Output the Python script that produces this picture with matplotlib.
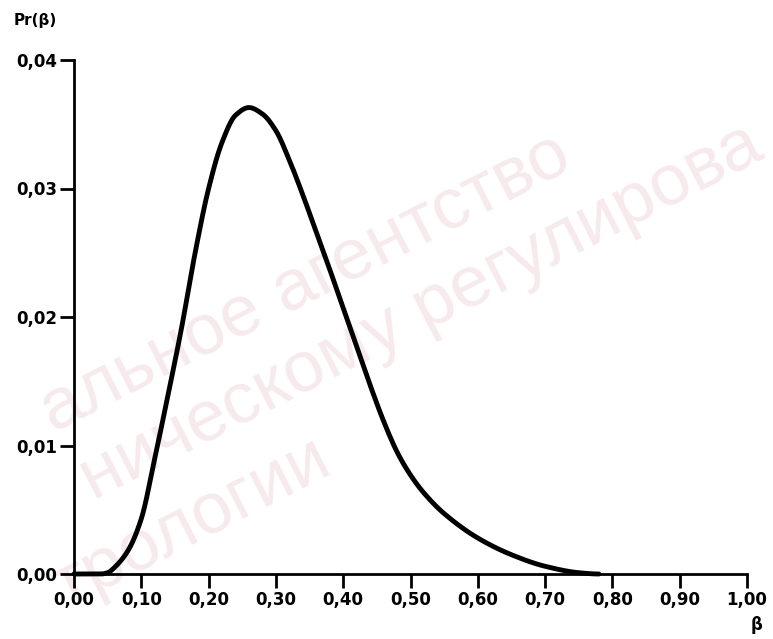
import numpy as np
import matplotlib
matplotlib.use('Agg')
import matplotlib.pyplot as plt

# values
beta = [0.00, 0.04, 0.05, 0.06, 0.08, 0.10, 0.12, 0.14, 0.16, 0.18, 0.20,
        0.22, 0.24, 0.26, 0.28, 0.30, 0.32, 0.34, 0.36, 0.38, 0.40, 0.42,
        0.44, 0.46, 0.48, 0.50, 0.52, 0.55, 0.60, 0.65, 0.70, 0.75, 0.78]
pr = [0.0, 0.0, 0.0001, 0.0005, 0.0018, 0.0043, 0.0090, 0.0140, 0.0192,
      0.0250, 0.0300, 0.0336, 0.0357, 0.0363, 0.0358, 0.0345, 0.0322,
      0.0295, 0.0266, 0.0237, 0.0207, 0.0177, 0.0147, 0.0119, 0.0095,
      0.0077, 0.0063, 0.0047, 0.0028, 0.0015, 0.0006, 0.0001, 0.0]

xticks = [0.0, 0.1, 0.2, 0.3, 0.4, 0.5, 0.6, 0.7, 0.8, 0.9, 1.0]
xlabels = ['0,00', '0,10', '0,20', '0,30', '0,40', '0,50', '0,60',
           '0,70', '0,80', '0,90', '1,00']
yticks = [0.0, 0.01, 0.02, 0.03, 0.04]
ylabels = ['0,00', '0,01', '0,02', '0,03', '0,04']

# visible pieces of the watermark
watermark = ['альное агентство', 'ническому регулирова', 'трологии']


def smooth(x, y, n=20):
    # cubic hermite through the read points, slopes limited so nothing overshoots
    x = np.asarray(x, float)
    y = np.asarray(y, float)
    h = np.diff(x)
    d = np.diff(y) / h
    m = np.zeros_like(y)
    for i in range(1, len(y) - 1):
        if d[i - 1] * d[i] > 0:
            m[i] = 2 / (1 / d[i - 1] + 1 / d[i])
    xs, ys = [], []
    for i in range(len(h)):
        t = np.linspace(0, 1, n, endpoint=False)
        h00 = 2 * t**3 - 3 * t**2 + 1
        h10 = t**3 - 2 * t**2 + t
        h01 = -2 * t**3 + 3 * t**2
        h11 = t**3 - t**2
        xs.append(x[i] + t * h[i])
        ys.append(h00 * y[i] + h10 * h[i] * m[i] + h01 * y[i + 1] + h11 * h[i] * m[i + 1])
    xs.append([x[-1]])
    ys.append([y[-1]])
    return np.concatenate(xs), np.concatenate(ys)


fig = plt.figure(figsize=(7.73, 6.39), dpi=100)
ax = fig.add_axes([74 / 773, 1 - 574 / 639, 673 / 773, 514 / 639])
ax.set_zorder(2)  # keep the plot above the watermark

wm_pos = [(575, 168), (766, 158), (335, 472)]
for txt, (px, py) in zip(watermark, wm_pos):
    fig.text(px / 773, 1 - py / 639, txt, fontsize=52, color='#f6eaec',
             rotation=27, rotation_mode='anchor', ha='right', va='baseline',
             zorder=0, family='Liberation Sans')

ax.patch.set_alpha(0)
bx, by = smooth(beta, pr)
ax.plot(bx, by, color='black', linewidth=3.5, solid_joinstyle='round',
        solid_capstyle='round', clip_on=False, zorder=3)

ax.set_xlim(0, 1.0)
ax.set_ylim(0, 0.04)
ax.set_xticks(xticks)
ax.set_xticklabels(xlabels)
ax.set_yticks(yticks)
ax.set_yticklabels(ylabels)

for s in ['top', 'right']:
    ax.spines[s].set_visible(False)
for s in ['left', 'bottom']:
    ax.spines[s].set_linewidth(2)
ax.tick_params(axis='both', direction='out', width=2, length=10, pad=2,
               labelsize=12)
for lab in ax.get_xticklabels() + ax.get_yticklabels():
    lab.set_fontweight('bold')

fig.text(14 / 773, 1 - 20 / 639, 'Pr(β)', fontsize=11, fontweight='bold',
         va='center', ha='left', zorder=3)
fig.text(757 / 773, 1 - 625 / 639, 'β', fontsize=12, fontweight='bold',
         va='center', ha='center', zorder=3)

fig.savefig('out.png', dpi=100)
